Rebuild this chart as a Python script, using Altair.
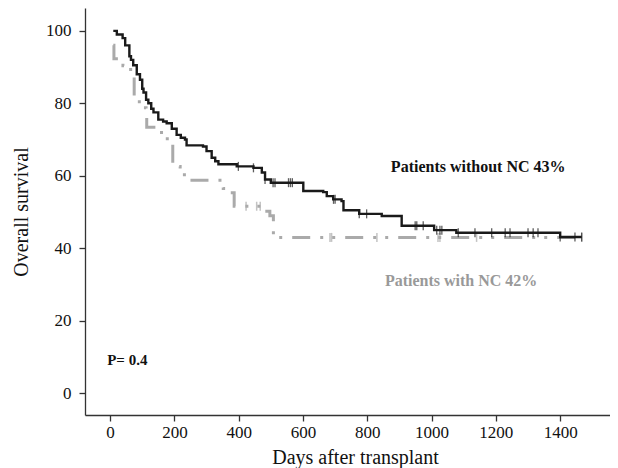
import altair as alt
import pandas as pd
import bisect

# Patients without NC (black curve): step-after points
black_days = [10, 21, 39, 47, 60, 65, 72, 83, 93, 100, 104, 112, 119, 128, 135, 150, 165, 176, 192, 207,
              220, 233, 238, 289, 300, 316, 327, 337, 394, 446, 472, 482, 500, 601, 663, 674, 694, 720,
              726, 775, 845, 907, 1008, 1077, 1400, 1467]
black_surv = [100, 99, 98, 96, 93, 92, 90.5, 88, 86.5, 84, 83, 81, 80, 78.5, 77.5, 75.5, 75, 74.5, 73, 71.3,
              70.5, 70, 68.4, 68.1, 66.8, 65, 64, 63.2, 62.6, 62.2, 60.9, 59, 58.1, 55.8, 55.5, 54.4, 53.5, 53,
              50.5, 49.5, 48.9, 46.2, 45, 44.3, 43.1, 43.1]
black_censor = [399, 446, 482, 507, 513, 555, 561, 567, 695, 700, 775, 798, 949, 954, 974, 1016, 1026, 1032,
                1083, 1135, 1187, 1229, 1244, 1300, 1316, 1331, 1400, 1446, 1467]

# Patients with NC (gray curve)
gray_days = [10, 12, 40, 64, 75, 91, 112, 114, 160, 188, 195, 218, 244, 352, 375, 386, 482, 497, 508, 1467]
gray_surv = [96, 92.3, 90.4, 88.6, 81, 78.8, 77.7, 73.4, 70.2, 68.8, 62.6, 60.3, 58.8, 56.5, 55.3, 51.6,
             50.2, 49, 43, 43]
gray_censor = [423, 456, 467, 684, 689, 830, 1020, 1026, 1140, 1467]

labels = ["Patients without NC 43%", "Patients with NC 42%", "P= 0.4"]
label_day = [1145, 1092, -9]
label_surv = [62.4, 31, 9.3]
label_color = ["#111111", "#999999", "#111111"]
label_align = ["center", "center", "left"]


def lookup(days, surv, d):
    i = bisect.bisect_right(days, d) - 1
    return surv[max(i, 0)]


black_df = pd.DataFrame({"day": black_days, "surv": black_surv})
gray_df = pd.DataFrame({"day": gray_days, "surv": gray_surv})
bc_df = pd.DataFrame({"day": black_censor, "surv": [lookup(black_days, black_surv, d) for d in black_censor]})
gc_df = pd.DataFrame({"day": gray_censor, "surv": [lookup(gray_days, gray_surv, d) for d in gray_censor]})
lab_df = pd.DataFrame({"text": labels, "day": label_day, "surv": label_surv,
                       "color": label_color, "align": label_align})

FONT = "Liberation Serif"
xs = alt.Scale(domain=[-78, 1555], nice=False, zero=False)
ys = alt.Scale(domain=[-6, 106.3], nice=False, zero=False)

xax = alt.Axis(values=[0, 200, 400, 600, 800, 1000, 1200, 1400], format="d", grid=False,
               title="Days after transplant", tickSize=6, labelPadding=3, titlePadding=7, titleX=270)
yax = alt.Axis(values=[0, 20, 40, 60, 80, 100], format="d", grid=False, title="Overall survival",
               tickSize=6, labelPadding=8, titlePadding=14)

gray_line = alt.Chart(gray_df).mark_line(
    interpolate="step-after", color="#aaaaaa", strokeWidth=3,
    strokeDash=[18, 10, 3, 9, 3, 10]
).encode(x=alt.X("day:Q", scale=xs, axis=xax), y=alt.Y("surv:Q", scale=ys, axis=yax))

gray_ticks = alt.Chart(gc_df).mark_tick(orient="vertical", color="#aaaaaa", size=9, thickness=1.5).encode(
    x=alt.X("day:Q", scale=xs), y=alt.Y("surv:Q", scale=ys))

black_line = alt.Chart(black_df).mark_line(
    interpolate="step-after", color="#1a1a1a", strokeWidth=2.4
).encode(x=alt.X("day:Q", scale=xs), y=alt.Y("surv:Q", scale=ys))

black_ticks = alt.Chart(bc_df).mark_tick(orient="vertical", color="#1a1a1a", size=9, thickness=1.3).encode(
    x=alt.X("day:Q", scale=xs), y=alt.Y("surv:Q", scale=ys))

text_c = alt.Chart(lab_df[lab_df["align"] == "center"]).mark_text(
    font=FONT, fontSize=16, fontWeight="bold", align="center", baseline="middle"
).encode(x=alt.X("day:Q", scale=xs), y=alt.Y("surv:Q", scale=ys), text="text:N",
         color=alt.Color("color:N", scale=None))

text_l = alt.Chart(lab_df[lab_df["align"] == "left"]).mark_text(
    font=FONT, fontSize=15, fontWeight="bold", align="left", baseline="middle"
).encode(x=alt.X("day:Q", scale=xs), y=alt.Y("surv:Q", scale=ys), text="text:N",
         color=alt.Color("color:N", scale=None))

chart = alt.layer(gray_line, gray_ticks, black_line, black_ticks, text_c, text_l).properties(
    width=525, height=407,
    autosize=alt.AutoSizeParams(type="none"),
    padding={"left": 77, "top": 0, "right": 0, "bottom": 55},
).configure_view(stroke=None).configure_axis(
    labelFont=FONT, titleFont=FONT, labelFontSize=17, titleFontSize=20,
    labelColor="#111111", titleColor="#111111", titleFontWeight="normal",
    domainColor="#333333", tickColor="#333333", domainWidth=1.3, tickWidth=1.3,
)

chart.save("out.html", embed_options={"renderer": "svg", "actions": False})
